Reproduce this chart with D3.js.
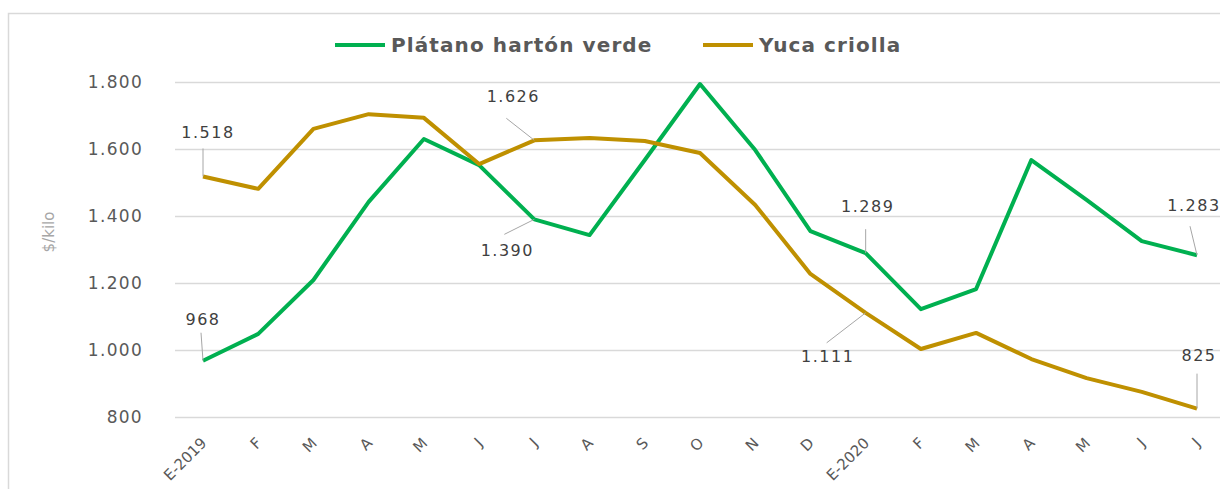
<!DOCTYPE html>
<html><head><meta charset="utf-8">
<script src="https://cdn.jsdelivr.net/npm/d3@7"></script>
<style>body{margin:0;background:#fff}svg{display:block}</style>
</head><body><svg id="c" width="1220" height="489"></svg>
<script>
const months = ["E-2019","F","M","A","M","J","J","A","S","O","N","D","E-2020","F","M","A","M","J","J"];
const platano = [968,1048,1209,1442,1630,1552,1390,1343,1567,1794,1597,1355,1289,1122,1182,1567,1448,1325,1283];
const yuca = [1518,1481,1660,1704,1693,1555,1626,1633,1624,1588,1433,1227,1111,1003,1051,973,916,875,825];
const yTicks = [800,1000,1200,1400,1600,1800];
const seriesNames = ["Plátano hartón verde","Yuca criolla"];
const colors = ["#00b050","#bf9000"];
// labelled points: [series, index, label offset, leader end offset]
const labels = [
  {s:0,i:0,dx:0,dy:-36,lx:-2,ly:-28},
  {s:1,i:0,dx:5,dy:-38,lx:0,ly:-28},
  {s:1,i:6,dx:-21,dy:-38,lx:-28,ly:-22},
  {s:0,i:6,dx:-27,dy:37,lx:-30,ly:15},
  {s:0,i:12,dx:2,dy:-41,lx:0,ly:-24},
  {s:1,i:12,dx:-38,dy:49,lx:-39,ly:30},
  {s:0,i:18,dx:-3,dy:-44,lx:-7,ly:-29},
  {s:1,i:18,dx:2,dy:-48,lx:0,ly:-35}
];

const svg = d3.select("#c");
const fmt = d3.formatLocale({decimal:",",thousands:".",grouping:[3],currency:["$",""]}).format(",d");
const x = d3.scaleLinear().domain([0, months.length-1]).range([203,1197]);
const y = d3.scaleLinear().domain([800,1800]).range([417,82]);
const font = "'DejaVu Sans', Verdana, sans-serif";

svg.append("rect").attr("x",8.5).attr("y",13.5).attr("width",1300).attr("height",600)
  .attr("fill","#fff").attr("stroke","#d9d9d9").attr("stroke-width",1.5);

const yAxis = d3.axisLeft(y).tickValues(yTicks).tickSize(-1050).tickFormat(fmt).tickPadding(32);
const gy = svg.append("g").attr("transform","translate(175,0)").call(yAxis);
gy.select(".domain").remove();
gy.selectAll(".tick line").attr("stroke","#d9d9d9").attr("stroke-width",1.5);
gy.selectAll(".tick text").attr("fill","#595959").attr("font-size",17).attr("font-family",font).attr("letter-spacing","1.3px");

const xAxis = d3.axisBottom(x).tickValues(d3.range(months.length)).tickSize(0).tickFormat(i=>months[i]);
const gx = svg.append("g").attr("transform","translate(0,417)").call(xAxis);
gx.select(".domain").remove();
gx.selectAll(".tick text").attr("fill","#595959").attr("font-size",15).attr("font-family",font)
  .attr("text-anchor","end").attr("dy",null).attr("y",0)
  .attr("transform","translate(4,27) rotate(-45)");

svg.append("text").attr("transform","translate(54,232) rotate(-90)").attr("text-anchor","middle")
  .attr("fill","#a6a6a6").attr("font-size",15).attr("font-family",font).text("$/kilo");

const line = d3.line().x((d,i)=>x(i)).y(d=>y(d));
[platano,yuca].forEach((s,k)=>{
  svg.append("path").datum(s).attr("d",line).attr("fill","none").attr("stroke",colors[k])
    .attr("stroke-width",4).attr("stroke-linejoin","round");
});

const data=[platano,yuca];
labels.forEach(l=>{
  const px=x(l.i), py=y(data[l.s][l.i]);
  svg.append("line").attr("x1",px).attr("y1",py).attr("x2",px+l.lx).attr("y2",py+l.ly)
    .attr("stroke","#a6a6a6").attr("stroke-width",1);
  svg.append("text").attr("x",px+l.dx).attr("y",py+l.dy).attr("text-anchor","middle")
    .attr("fill","#404040").attr("font-size",16).attr("font-family",font).attr("letter-spacing","1.5px")
    .text(fmt(data[l.s][l.i]));
});

const leg=[{x:335,tx:391},{x:703,tx:759}];
seriesNames.forEach((n,k)=>{
  svg.append("line").attr("x1",leg[k].x).attr("x2",leg[k].x+50).attr("y1",45).attr("y2",45)
    .attr("stroke",colors[k]).attr("stroke-width",4);
  svg.append("text").attr("x",leg[k].tx).attr("y",52).attr("fill","#595959").attr("font-size",20)
    .attr("font-weight","bold").attr("font-family",font).attr("letter-spacing","1.1px").text(n);
});
</script></body></html>
